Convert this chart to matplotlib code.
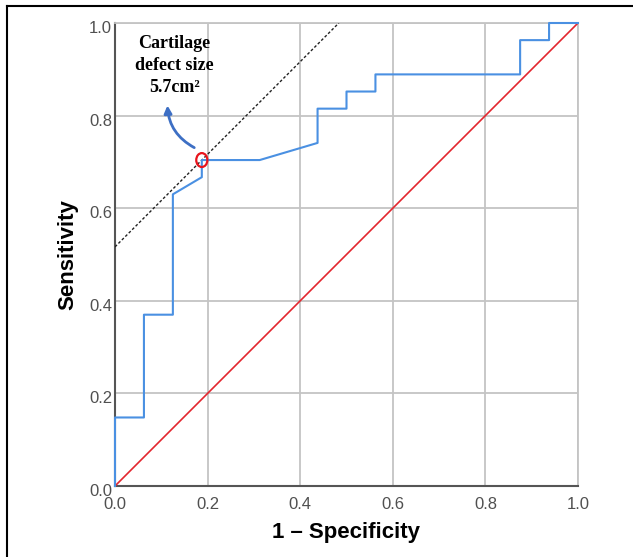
import matplotlib
matplotlib.use("Agg")
import matplotlib.pyplot as plt
import matplotlib.transforms as mtransforms
from matplotlib.patches import Ellipse, FancyArrowPatch
from matplotlib.lines import Line2D

# ROC curve (1 - specificity, sensitivity)
fpr = [0.0, 0.0, 0.0625, 0.0625, 0.125, 0.125, 0.1875, 0.1875, 0.3125, 0.4375,
       0.4375, 0.5, 0.5, 0.5625, 0.5625, 0.875, 0.875, 0.9375, 0.9375, 1.0]
tpr = [0.0, 0.148, 0.148, 0.370, 0.370, 0.630, 0.667, 0.704, 0.704, 0.741,
       0.815, 0.815, 0.852, 0.852, 0.889, 0.889, 0.963, 0.963, 1.0, 1.0]
ref_x = [0.0, 1.0]
ref_y = [0.0, 1.0]
cut_x = 0.1875
cut_y = 0.704
tangent_intercept = cut_y - cut_x
ticks = [0.0, 0.2, 0.4, 0.6, 0.8, 1.0]
tick_labels = ["0.0", "0.2", "0.4", "0.6", "0.8", "1.0"]
annot_text = "Cartilage\ndefect size\n5.7cm²"

fig = plt.figure(figsize=(6.33, 5.57), dpi=100)
ax = fig.add_axes([115/633, 1-486/557, 463/633, 463/557])

ax.set_xlim(0, 1)
ax.set_ylim(0, 1)
ax.set_xticks(ticks)
ax.set_yticks(ticks)
ax.set_xticklabels(tick_labels)
ax.set_yticklabels(tick_labels)
ax.grid(True, color="#c4c4c4", linewidth=1.3)
ax.set_axisbelow(True)
ax.tick_params(length=0, labelsize=12, labelcolor="#505050")
ax.tick_params(axis="x", pad=8)
ax.tick_params(axis="y", pad=2)
for lab in ax.get_xticklabels() + ax.get_yticklabels():
    lab.set_family("Liberation Sans")
shift = mtransforms.ScaledTranslation(0, -4/100, fig.dpi_scale_trans)
for lab in ax.get_yticklabels():
    lab.set_transform(lab.get_transform() + shift)

for s in ["top", "right"]:
    ax.spines[s].set_color("#c4c4c4")
    ax.spines[s].set_linewidth(1.3)
for s in ["left", "bottom"]:
    ax.spines[s].set_color("#555555")
    ax.spines[s].set_linewidth(1.5)

# reference diagonal
ax.plot(ref_x, ref_y, color="#e3262e", linewidth=1.2, zorder=3)
# tangent line (dashed)
tx = [0.0, 1.0 - tangent_intercept]
ty = [tangent_intercept, 1.0]
ax.plot(tx, ty, color="#222222", linewidth=1.0, linestyle=(0, (2.0, 1.5)), zorder=3)
# ROC
ax.plot(fpr, tpr, color="#4a90e2", linewidth=1.5, zorder=4, clip_on=False)

# cut-off marker
ell = Ellipse((cut_x, cut_y), width=0.024, height=0.030, fill=False,
              edgecolor="#e8141c", linewidth=1.6, zorder=5)
ax.add_patch(ell)

# curved arrow
arr = FancyArrowPatch((cut_x - 0.011, cut_y + 0.024), (0.113, 0.828),
                      connectionstyle="arc3,rad=-0.3", arrowstyle="-|>",
                      mutation_scale=11, linewidth=2.0, color="#3d6fc4", zorder=6)
ax.add_patch(arr)

ax.text(0.128, 0.908, annot_text, ha="center", va="center",
        family="Liberation Serif", fontweight="bold", fontsize=13,
        linespacing=1.4, color="black", zorder=6)

ax.set_xlabel("1 – Specificity", family="Liberation Sans", fontweight="bold",
              fontsize=16, labelpad=7)
ax.set_ylabel("Sensitivity", family="Liberation Sans", fontweight="bold",
              fontsize=16, labelpad=8)

# partial frame of the figure (top and left edges)
fig.add_artist(Line2D([7/633, 1.0], [1-6/557, 1-6/557], color="black", linewidth=1.5,
                      transform=fig.transFigure))
fig.add_artist(Line2D([7/633, 7/633], [0.0, 1-6/557], color="black", linewidth=1.5,
                      transform=fig.transFigure))

fig.savefig("out.png", dpi=100)
